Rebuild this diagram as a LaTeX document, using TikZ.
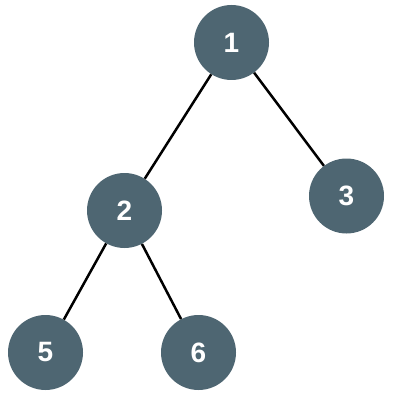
\documentclass[tikz,border=0pt]{standalone}
\usepackage{fontspec}
\setmainfont{Liberation Sans}
\usepackage{xcolor}
\usetikzlibrary{positioning}
\definecolor{nodeblue}{HTML}{4E6672}

\tikzset{
  treenode/.style={circle, fill=nodeblue, text=white,
    minimum size=75pt, inner sep=0pt,
    font=\bfseries\fontsize{28}{34}\selectfont},
  edge/.style={line width=2.5pt, black}
}

\begin{document}
\begin{tikzpicture}[x=1pt, y=-1pt]

    \useasboundingbox (0,0) rectangle (400,414);

    \node[treenode] (n1) at (231.5,42.5) {1};

    \node[treenode] (n2) at (124.5,210.5) {2};

    \node[treenode] (n3) at (346.5,196) {3};

    \node[treenode] (n5) at (45.5,352.5) {5};

    \node[treenode] (n6) at (198.5,352.5) {6};

    \draw[edge] (n1)--(n2);
    \draw[edge] (n1)--(n3);
    \draw[edge] (n2)--(n5);
    \draw[edge] (n2)--(n6);
\end{tikzpicture}
\end{document}
